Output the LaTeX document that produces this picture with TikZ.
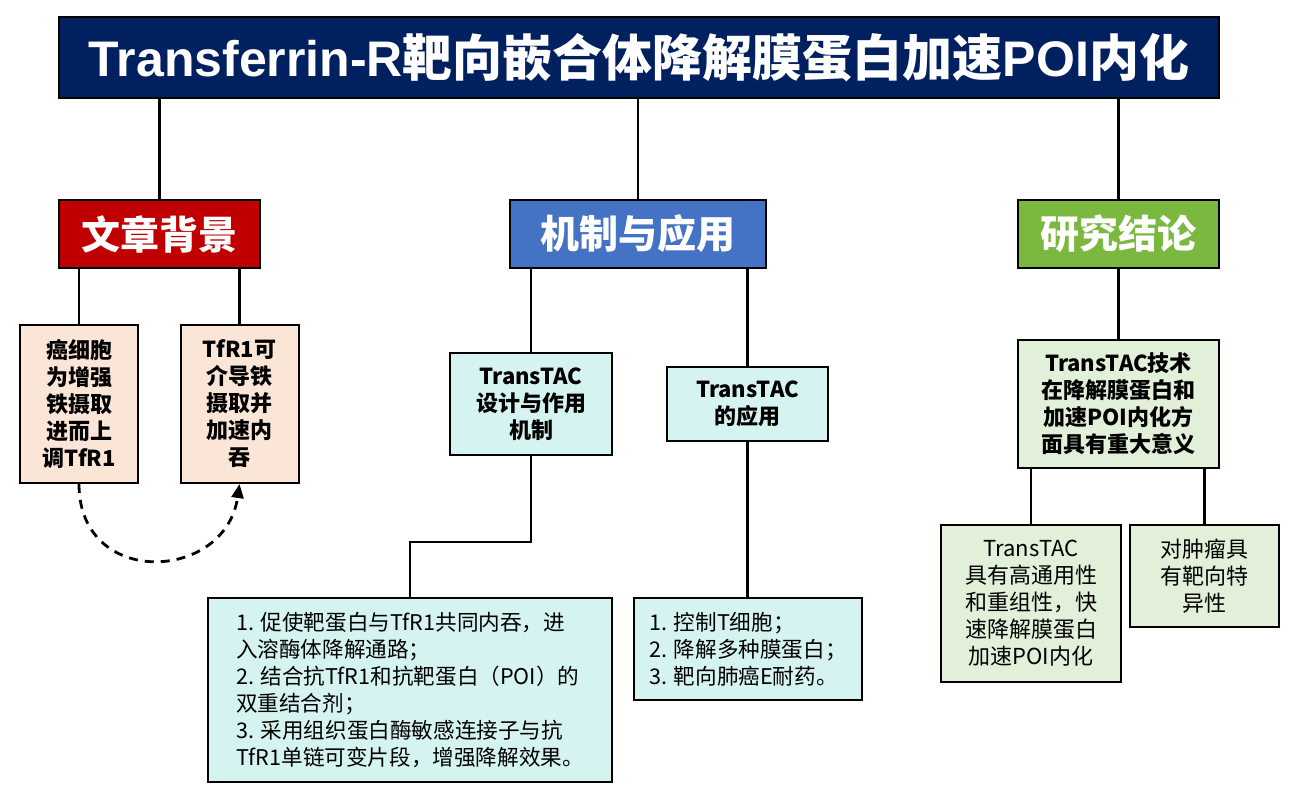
\documentclass[tikz,border=0pt]{standalone}
\usepackage{fontspec}
\setmainfont{Noto Sans CJK SC}
\newfontfamily\arialfont{Liberation Sans}
\usetikzlibrary{arrows.meta, positioning, calc}

\definecolor{navy}{HTML}{002060}
\definecolor{bgred}{HTML}{C00000}
\definecolor{mechblue}{HTML}{4472C4}
\definecolor{resgreen}{HTML}{7AB83F}
\definecolor{peach}{HTML}{FBE5D6}
\definecolor{mint}{HTML}{D5F3F0}
\definecolor{palegreen}{HTML}{E2F0D9}

\begin{document}
\begin{tikzpicture}[
  x=0.5pt, y=-0.5pt,
  link/.style={line width=1.4pt},
  box/.style={rectangle, draw=black, line width=1pt, inner sep=0pt, align=center},
  hdr/.style={box, fill=navy, text=white, minimum width=580pt, minimum height=40.5pt,
              font=\bfseries\fontsize{25}{29}\selectfont},
  cat/.style={box, text=white, minimum height=34pt,
              font=\bfseries\fontsize{19.5}{24}\selectfont},
  bgbox/.style={box, fill=peach, minimum width=59pt, minimum height=79pt,
                font=\bfseries\fontsize{11}{13.5}\selectfont},
  mechbox/.style={box, fill=mint, font=\bfseries\fontsize{11}{13.5}\selectfont},
  lst/.style={box, fill=mint, align=left, font=\fontsize{10.8}{13.5}\selectfont},
  resbox/.style={box, fill=palegreen, font=\fontsize{11}{13.5}\selectfont},
]
\useasboundingbox (0,0) rectangle (1299,799);

% title and the three branches
\node[hdr] (title) at (639,57.5)
  {{\arialfont Transferrin-R}靶向嵌合体降解膜蛋白加速{\arialfont POI}内化};
\node[cat, fill=bgred, minimum width=100.5pt]    (bg)  at (159.5,234) {文章背景};
\node[cat, fill=mechblue, minimum width=128pt]   (mid) at (638,234)   {机制与应用};
\node[cat, fill=resgreen, minimum width=100.5pt] (res) at (1118.5,234) {研究结论};

% background
\node[bgbox] (bg1) at (79,404)    {癌细胞\\为增强\\铁摄取\\进而上\\调TfR1};
\node[bgbox] (bg2) at (239.5,404) {TfR1可\\介导铁\\摄取并\\加速内\\吞};

% mechanism and use
\node[mechbox, minimum width=81pt, minimum height=51pt]   (mech) at (531,404)
  {TransTAC\\设计与作用\\机制};
\node[mechbox, minimum width=80.5pt, minimum height=37pt] (app)  at (747.5,404)
  {TransTAC\\的应用};
\node[lst, minimum width=202pt, minimum height=92pt] (mechlist) at (410,690)
  {1. 促使靶蛋白与TfR1共同内吞，进\\
   入溶酶体降解通路；\\
   2. 结合抗TfR1和抗靶蛋白（POI）的\\
   双重结合剂；\\
   3. 采用组织蛋白酶敏感连接子与抗\\
   TfR1单链可变片段，增强降解效果。};
\node[lst, minimum width=114pt, minimum height=51pt] (applist) at (748,649)
  {1. 控制T细胞；\\
   2. 降解多种膜蛋白；\\
   3. 靶向肺癌E耐药。};

% conclusion
\node[resbox, font=\bfseries\fontsize{11}{13.5}\selectfont,
      minimum width=100.5pt, minimum height=64pt] (conc) at (1118.5,404)
  {TransTAC技术\\在降解膜蛋白和\\加速POI内化方\\面具有重大意义};
\node[resbox, minimum width=90pt, minimum height=78.5pt] (concL) at (1031,603.5)
  {TransTAC\\具有高通用性\\和重组性，快\\速降解膜蛋白\\加速POI内化};
\node[resbox, minimum width=74.5pt, minimum height=51pt] (concR) at (1204.5,576)
  {对肿瘤具\\有靶向特\\异性};

% connectors
\draw[link] (title.south -| bg.north)  -- (bg.north);
\draw[link] (title.south -| mid.north) -- (mid.north);
\draw[link] (title.south -| res.north) -- (res.north);

\draw[link] (bg.south -| bg1.north) -- (bg1.north);
\draw[link] (bg.south -| bg2.north) -- (bg2.north);
\draw[link, dash pattern=on 4.5pt off 3.5pt, -{Triangle[length=7pt, width=6pt]}]
  (bg1.south) .. controls +(0,105) and +(-14,98) .. (bg2.south);

\draw[link] (mid.south -| mech.north) -- (mech.north);
\draw[link] (mid.south -| app.north)  -- (app.north);
\draw[link] (mech.south) -- ++(0,86) -| (mechlist.north);
\draw[link] (app.south) -- (app.south |- applist.north);

\draw[link] (res.south) -- (conc.north);
\draw[link] (conc.south -| concL.north) -- (concL.north);
\draw[link] (conc.south -| concR.north) -- (concR.north);

\end{tikzpicture}
\end{document}
